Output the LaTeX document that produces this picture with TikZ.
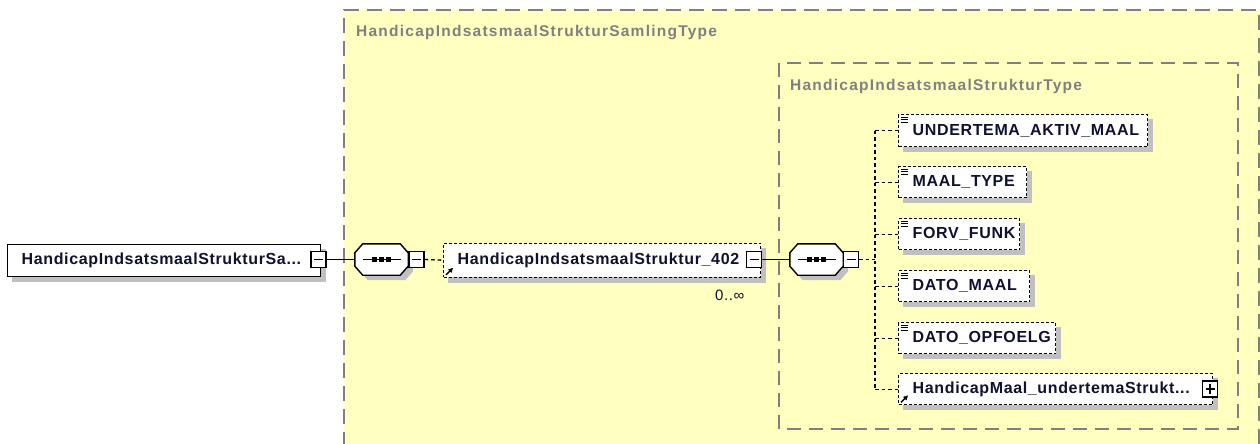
\documentclass[tikz,border=0pt]{standalone}
\usepackage{fontspec}
\setmainfont{Liberation Sans}
\newfontfamily\elemfont[LetterSpace=4]{Liberation Sans}
\newfontfamily\titlefont[LetterSpace=8]{Liberation Sans}
\usetikzlibrary{arrows.meta}
\pgfdeclarelayer{back}
\pgfdeclarelayer{shade}
\pgfsetlayers{back,shade,main}
\hyphenpenalty=10000
\exhyphenpenalty=10000
\definecolor{bgyellow}{HTML}{FFFFC0}
\definecolor{framegray}{HTML}{808080}
\definecolor{shadowgray}{HTML}{C0C0C0}
\definecolor{textdark}{HTML}{101030}
\newcommand\octpath[1]{([xshift=8pt]#1.north west) -- ([xshift=-8pt]#1.north east) -- ([yshift=-9pt]#1.north east) -- ([yshift=9pt]#1.south east) -- ([xshift=-8pt]#1.south east) -- ([xshift=8pt]#1.south west) -- ([yshift=9pt]#1.south west) -- ([yshift=-9pt]#1.north west) -- cycle}
\tikzset{
 boxbase/.style={fill=white, line width=1.4pt, inner xsep=0pt, inner ysep=0pt, anchor=north west, align=left, text height=12pt, text depth=2.6pt, text=textdark, font=\elemfont\bfseries\fontsize{16pt}{18pt}\selectfont, execute at begin node={\hspace*{14pt}}},
 rootbox/.style={boxbase, draw=black, solid},
 elembox/.style={boxbase, draw=black, dash pattern=on 3pt off 2pt},
 conn/.style={line width=1.3pt, dash pattern=on 3.5pt off 3pt},
 solidconn/.style={line width=1.3pt},
 ctrlbox/.style={draw=black, fill=white, line width=1.3pt, minimum width=15pt, minimum height=16pt, inner sep=0pt},
 minusbox/.style={ctrlbox, path picture={\draw[line width=1.2pt] ([xshift=3pt]path picture bounding box.west) -- ([xshift=-3pt]path picture bounding box.east);}},
 plusbox/.style={ctrlbox, path picture={\draw[line width=1.2pt] ([xshift=3pt]path picture bounding box.west) -- ([xshift=-3pt]path picture bounding box.east) ([yshift=-3pt]path picture bounding box.north) -- ([yshift=3pt]path picture bounding box.south);}},
 compositor/.style={minimum width=53pt, minimum height=31pt, inner sep=0pt},
 frame/.style={draw=framegray, line width=1.5pt, dash pattern=on 15pt off 8pt},
 innerframe/.style={draw=framegray, line width=1.5pt, dash pattern=on 14pt off 8pt},
 titletext/.style={anchor=base west, inner sep=0pt, text=framegray, font=\titlefont\bfseries\fontsize{15.5pt}{17pt}\selectfont},
 occtext/.style={anchor=base west, inner sep=0pt, text=textdark, font=\elemfont\fontsize{15pt}{17pt}\selectfont},
}
\begin{document}
\begin{tikzpicture}[x=1pt,y=-1pt]
\useasboundingbox (0,0) rectangle (1260,444);
\begin{pgfonlayer}{back}
\fill[white] (0,0) rectangle (1260,444);
\fill[bgyellow] (344,10) rectangle (1270,454);
\draw[frame] (344,470) -- (344,10) -- (1259,10) -- (1259,470);
\draw[innerframe] (779,63) rectangle (1238,429);
\end{pgfonlayer}

\node[titletext] (t1) at (356,37) {HandicapIndsatsmaalStrukturSamlingType};
\node[titletext] (t2) at (790,90) {HandicapIndsatsmaalStrukturType};

\node[rootbox, text width=313pt, minimum height=32pt] (root) at (7,243.5) {HandicapIndsatsmaalStrukturSa...};
\node[minusbox] (m0) at (318.5,259.5) {};
\node[compositor] (c1) at (381.5,259.5) {};
\node[minusbox] (m1) at (416.5,259.5) {};
\node[elembox, text width=317pt, minimum height=34pt] (e402) at (443,242.5) {HandicapIndsatsmaalStruktur\_402};
\node[minusbox] (m402) at (754,259.5) {};
\node[occtext] (occ) at (715,300) {0..∞};
\node[compositor] (c2) at (816.5,259.5) {};
\node[minusbox] (m2) at (851,259.5) {};
\coordinate (trunk) at (875,259.5);

\node[elembox, text width=249pt, minimum height=32pt] (u1) at (898,114) {UNDERTEMA\_AKTIV\_MAAL};
\node[elembox, text width=128pt, minimum height=31pt] (u2) at (898,166) {MAAL\_TYPE};
\node[elembox, text width=121pt, minimum height=31pt] (u3) at (898,218) {FORV\_FUNK};
\node[elembox, text width=131pt, minimum height=31pt] (u4) at (898,270) {DATO\_MAAL};
\node[elembox, text width=157pt, minimum height=31pt] (u5) at (898,322) {DATO\_OPFOELG};
\node[elembox, text width=314pt, minimum height=31pt] (u6) at (898,373) {HandicapMaal\_undertemaStrukt...};
\node[plusbox] (p6) at (1210,389) {};

\begin{pgfonlayer}{shade}
\foreach \n in {root,e402,u1,u2,u3,u4,u5,u6}
  \fill[shadowgray, transform canvas={shift={(5pt,-5pt)}}] (\n.north west) rectangle (\n.south east);
\foreach \n in {c1,c2}
  \fill[shadowgray, transform canvas={shift={(5pt,-5pt)}}] \octpath{\n};
\end{pgfonlayer}

\foreach \n in {c1,c2} {
  \draw[fill=white, line width=1.4pt] \octpath{\n};
  \draw[line width=1.3pt] ([xshift=-19pt]\n.center) -- ([xshift=19pt]\n.center);
  \foreach \d in {-7,0,7}
    \fill ([xshift=\d pt]\n.center) +(-2.2,-2.2) rectangle +(2.2,2.2);
}

\draw[solidconn] (m0.east) -- (c1.west);
\draw[conn] (m1.east) -- (e402.west);
\draw[solidconn] (m402.east) -- (c2.west);
\draw[conn] (m2.east) -- (trunk);
\draw[conn] (trunk |- u1.west) -- (trunk |- u6.west);
\foreach \n in {u1,u2,u3,u4,u5,u6}
  \draw[conn] (trunk |- \n.west) -- (\n.west);

\foreach \n in {e402,u6}
  \draw[line width=1.5pt, -{Triangle[length=4.5pt,width=4.5pt]}] ([xshift=3pt,yshift=3pt]\n.south west) -- ([xshift=10pt,yshift=10pt]\n.south west);
\foreach \n in {u1,u2,u3,u4,u5}
  \foreach \k in {3,5.5,8}
    \draw[line width=0.9pt] ([xshift=3pt,yshift=-\k pt]\n.north west) -- ([xshift=10pt,yshift=-\k pt]\n.north west);
\end{tikzpicture}
\end{document}
